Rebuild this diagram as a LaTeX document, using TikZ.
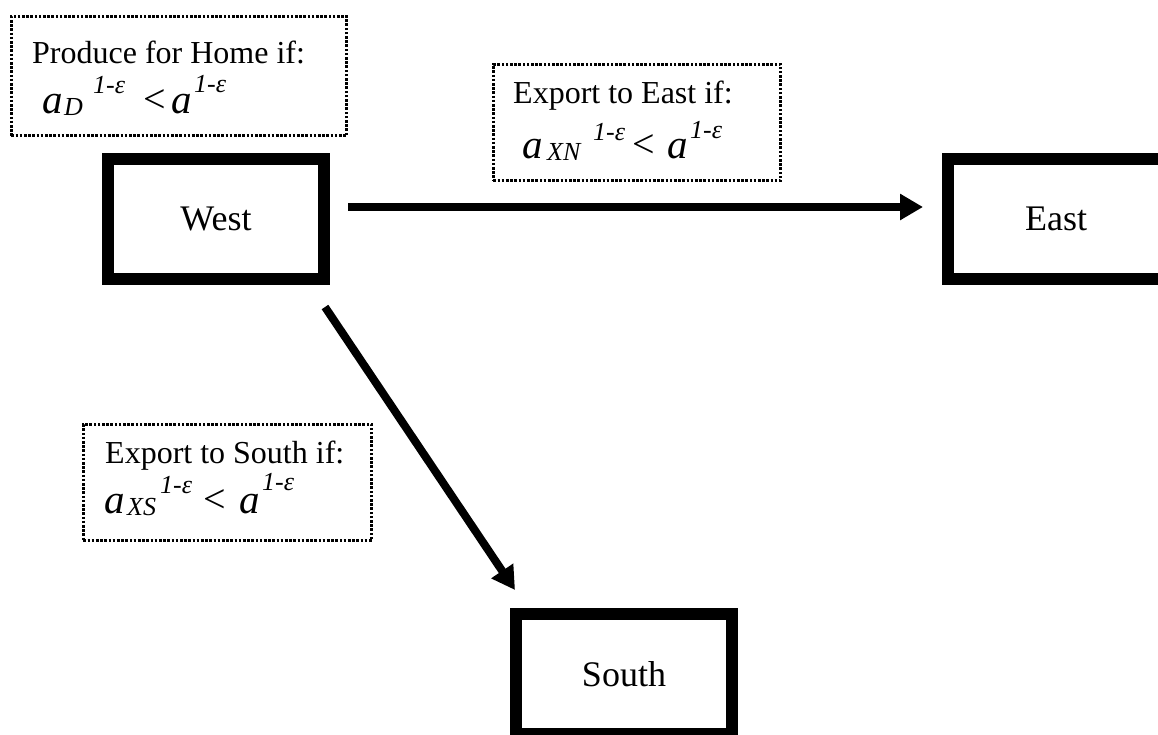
\documentclass[tikz,border=0pt]{standalone}
\usepackage{fontspec}
\setmainfont{Liberation Serif}
\usetikzlibrary{arrows.meta,calc}
\begin{document}
\begin{tikzpicture}[x=1pt,y=-1pt,
  country/.style={draw,line width=12pt,minimum width=216pt,minimum height=120pt,inner sep=0pt,font=\fontsize{36}{40}\selectfont},
  cond/.style={draw,line width=2.6pt,dash pattern=on 2.6pt off 1.6pt,inner sep=0pt},
  lbl/.style={anchor=base west,inner sep=0pt,font=\fontsize{32}{36}\selectfont},
  fa/.style={anchor=base west,inner sep=0pt,font=\fontsize{41}{46}\selectfont\itshape},
  fs/.style={anchor=base west,inner sep=0pt,font=\fontsize{26}{30}\selectfont\itshape},
  flt/.style={anchor=base west,inner sep=0pt,font=\fontsize{40}{44}\selectfont},
  flow/.style={line width=8pt,-{Triangle[length=23pt,width=25pt]}}
]
\useasboundingbox (0,0) rectangle (1158,734);
\clip (0,0) rectangle (1158,734);

% countries
\node[country] (West) at (216,219) {West};
\node[country] (East) at (1056,218.5) {East};
\node[country] (South) at (624,674) {South};

% condition boxes
\node[cond,minimum width=335.4pt,minimum height=119.4pt] (c1) at (179,76) {};
\node[cond,minimum width=287.4pt,minimum height=116.4pt] (c2) at (637,122.5) {};
\node[cond,minimum width=288.4pt,minimum height=116.4pt] (c3) at (227.5,482.5) {};

% box 1
\node[lbl] (t1) at (32,63) {Produce for Home if:};
\node[fa] (a1) at (42,113) {a};
\node[fs] (s1) at (64,115) {D};
\node[fs] (p1) at (93,93) {1-ε};
\node[flt] (l1) at (143,112) {<};
\node[fa] (b1) at (171,113) {a};
\node[fs] (q1) at (194,92) {1-ε};

% box 2
\node[lbl] (t2) at (513,103) {Export to East if:};
\node[fa] (a2) at (522,158) {a};
\node[fs] (s2) at (547,160) {XN};
\node[fs] (p2) at (593,140) {1-ε};
\node[flt] (l2) at (632,157) {<};
\node[fa] (b2) at (667,158) {a};
\node[fs] (q2) at (690,138) {1-ε};

% box 3
\node[lbl] (t3) at (105,463) {Export to South if:};
\node[fa] (a3) at (104,513) {a};
\node[fs] (s3) at (127,515) {XS};
\node[fs] (p3) at (160,493) {1-ε};
\node[flt] (l3) at (203,512) {<};
\node[fa] (b3) at (239,513) {a};
\node[fs] (q3) at (262,490) {1-ε};

% flows
\draw[flow] ([shift={(18,-12)}]West.east) -- ([shift={(-19,-11.5)}]East.west);
\draw[flow] ([shift={(-5,22)}]West.south east) -- ([shift={(5,-18)}]South.north west);
\end{tikzpicture}
\end{document}
